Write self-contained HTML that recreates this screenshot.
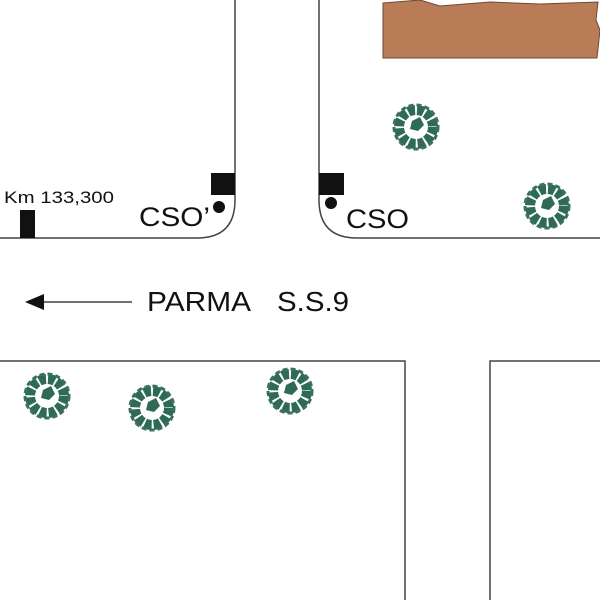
<!DOCTYPE html>
<html><head><style>body{margin:0;background:#fff}svg{display:block}</style></head><body>
<svg width="600" height="600" viewBox="0 0 600 600" xmlns="http://www.w3.org/2000/svg">
<defs>
<g id="t">
<circle r="17" fill="none" stroke="#2e6a55" stroke-width="10" stroke-dasharray="7 2"/>
<circle r="22" fill="none" stroke="#3a7060" stroke-width="3" stroke-dasharray="5 3"/>
<path d="M-4,-6 L4,-10 L8,-2 L2,4 L-6,2Z" fill="#2e6a55"/>
</g>
</defs>
<g fill="none" stroke="#444" stroke-width="1.5">
<path d="M235,0 V200 Q235,238 197,238 H0"/>
<path d="M319,0 V200 Q319,238 357,238 H600"/>
<path d="M0,361 H405 V600"/>
<path d="M600,361 H490 V600"/>
<path d="M30,302 H132"/>
</g>
<path d="M25,302 L44,294 L44,310Z" fill="#111"/>
<path d="M383,3 L420,0 L440,6 L490,2 L540,4 L598,2 L596,20 L600,30 L597,58 L383,58Z" fill="#b97c56" stroke="#6b4a35" stroke-width="1"/>
<rect x="211" y="173" width="24" height="22" fill="#111"/>
<circle cx="219" cy="207" r="6" fill="#111"/>
<rect x="319" y="173" width="25" height="22" fill="#111"/>
<circle cx="331" cy="203" r="6" fill="#111"/>
<rect x="20" y="210" width="15" height="28" fill="#111"/>
<g font-family="Liberation Sans, sans-serif" fill="#111" lengthAdjust="spacingAndGlyphs">
<text x="4" y="203" font-size="17" textLength="110" lengthAdjust="spacingAndGlyphs">Km 133,300</text>
<text x="139" y="226" font-size="27" textLength="71" lengthAdjust="spacingAndGlyphs">CSO’</text>
<text x="346" y="228" font-size="27" textLength="63" lengthAdjust="spacingAndGlyphs">CSO</text>
<text x="147" y="311" font-size="28" textLength="104" lengthAdjust="spacingAndGlyphs">PARMA</text>
<text x="277" y="311" font-size="28" textLength="72" lengthAdjust="spacingAndGlyphs">S.S.9</text>
</g>
<use href="#t" x="416" y="127"/>
<use href="#t" x="547" y="206"/>
<use href="#t" x="47" y="396"/>
<use href="#t" x="152" y="408"/>
<use href="#t" x="290" y="391"/>
</svg>
</body></html>
